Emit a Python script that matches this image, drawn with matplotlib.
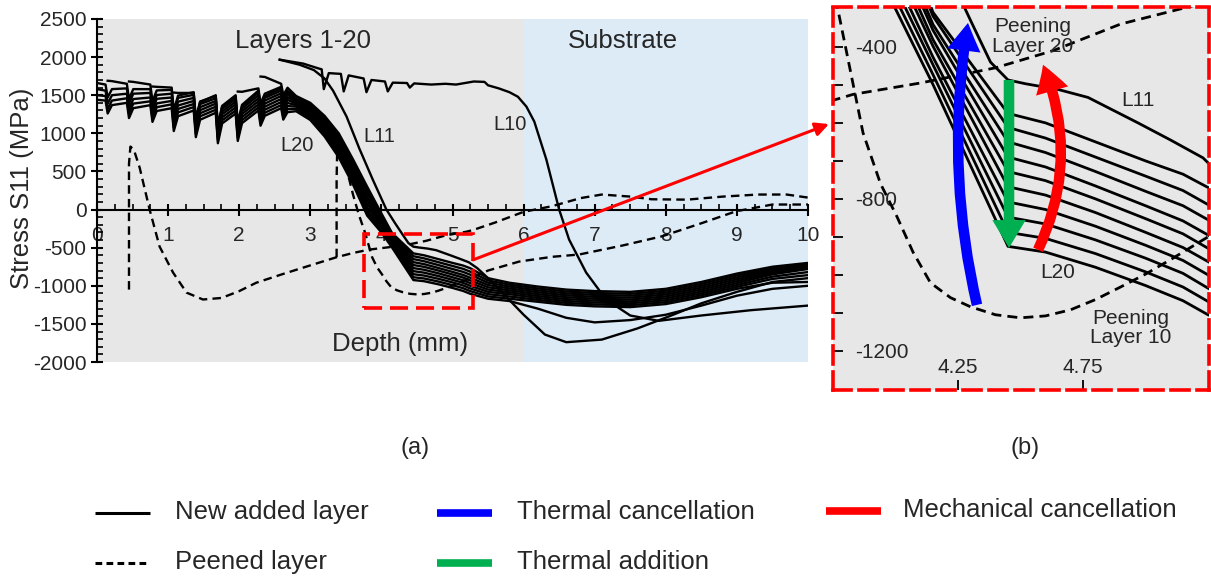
"""Residual stress S11 vs depth for layers 1-20, with zoomed detail panel."""

import matplotlib

matplotlib.use("Agg")
import matplotlib.pyplot as plt
import numpy as np
from matplotlib.lines import Line2D
from matplotlib.patches import ArrowStyle, ConnectionPatch, FancyArrowPatch, Rectangle
from matplotlib.ticker import MultipleLocator

plt.rcParams["font.family"] = ["Liberation Sans", "DejaVu Sans"]
plt.rcParams["axes.unicode_minus"] = False

# ---------------------------------------------------------------- data
# shared depth grid (mm) for the bundle of newly added layer curves
depth_grid = [
    0.00,
    0.12, 0.15, 0.21, 0.42, 0.45, 0.51, 0.75, 0.78, 0.84,
    1.05, 1.08, 1.14, 1.36, 1.39, 1.45, 1.67, 1.70, 1.76,
    1.95, 1.98, 2.04, 2.27, 2.30, 2.36, 2.59, 2.62, 2.68,
    2.80, 3.00, 3.20, 3.40, 3.60, 3.80, 4.00, 4.15, 4.30, 4.45,
    4.60, 4.80, 5.00, 5.15, 5.25,
    5.50, 5.80, 6.20, 6.60, 7.00, 7.50, 8.00, 8.50, 9.00, 9.50, 10.0,
]

# stress (MPa) per bundle curve, None before the curve starts
bundle_01 = [
    None, None, None, None, None, None, None, None, None, None,
    None, None, None, None, None, None, None, None, None,
    None, None, None, None, 1745, 1740, 1650, 1500, 1598,
    1490, 1400, 1230, 1000, 660, 300, -50, -309, -442, -575,
    -600, -650, -700, -735, -770,
    -900, -960, -1010, -1050, -1070, -1080, -1040, -950, -840, -750, -700,
]
bundle_02 = [
    None, None, None, None, None, None, None, None, None, None,
    None, None, None, None, None, None, None, None, None,
    None, 1548, 1545, 1590, 1390, 1520, 1610, 1460, 1558,
    1470, 1375, 1200, 965, 625, 255, -78, -319, -466, -612,
    -640, -690, -740, -778, -815,
    -930, -985, -1035, -1075, -1095, -1105, -1065, -975, -865, -770, -715,
]
bundle_03 = [
    None, None, None, None, None, None, None, None, None, None,
    None, 1535, 1530, 1530, 1180, 1408, 1500, 1100, 1360,
    1500, 1140, 1374, 1560, 1360, 1490, 1590, 1440, 1538,
    1450, 1350, 1170, 930, 590, 209, -106, -341, -496, -650,
    -678, -728, -780, -818, -855,
    -960, -1010, -1060, -1100, -1120, -1130, -1090, -1000, -890, -790, -730,
]
bundle_04 = [
    None, None, None, None, None, None, None, None, 1614, 1610,
    1600, 1300, 1495, 1540, 1190, 1418, 1490, 1090, 1350,
    1480, 1120, 1354, 1535, 1335, 1465, 1560, 1410, 1508,
    1430, 1325, 1140, 895, 555, 164, -133, -356, -523, -690,
    -716, -766, -818, -858, -895,
    -990, -1035, -1085, -1125, -1145, -1155, -1115, -1025, -915, -810, -745,
]
bundle_05 = [
    None, None, None, None, None, 1680, 1675, 1640, 1420, 1563,
    1570, 1270, 1465, 1505, 1155, 1383, 1460, 1060, 1320,
    1450, 1090, 1324, 1500, 1300, 1430, 1525, 1375, 1473,
    1410, 1300, 1110, 860, 515, 118, -161, -381, -554, -728,
    -752, -800, -852, -892, -930,
    -1020, -1060, -1110, -1150, -1170, -1180, -1140, -1050, -940, -830, -760,
]
bundle_06 = [
    None, None, 1690, 1685, 1650, 1450, 1580, 1580, 1360, 1503,
    1520, 1220, 1415, 1465, 1115, 1343, 1425, 1025, 1285,
    1415, 1055, 1289, 1460, 1260, 1390, 1490, 1340, 1438,
    1390, 1275, 1080, 825, 480, 73, -189, -398, -583, -768,
    -790, -836, -888, -928, -965,
    -1050, -1085, -1135, -1175, -1195, -1205, -1165, -1075, -965, -850, -780,
]
bundle_07 = [
    1660, 1640, 1470, 1580, 1590, 1390, 1520, 1530, 1310, 1453,
    1470, 1170, 1365, 1425, 1075, 1303, 1390, 990, 1250,
    1380, 1020, 1254, 1420, 1220, 1350, 1450, 1300, 1398,
    1370, 1250, 1050, 790, 445, 27, -217, -427, -618, -808,
    -828, -872, -922, -962, -1000,
    -1080, -1110, -1160, -1200, -1220, -1230, -1190, -1100, -990, -880, -820,
]
bundle_08 = [
    1580, 1560, 1390, 1500, 1520, 1320, 1450, 1470, 1250, 1393,
    1425, 1125, 1320, 1385, 1035, 1263, 1350, 950, 1210,
    1340, 980, 1214, 1380, 1180, 1310, 1410, 1260, 1358,
    1350, 1225, 1020, 755, 410, -18, -244, -447, -648, -848,
    -866, -908, -956, -996, -1035,
    -1110, -1140, -1185, -1225, -1245, -1255, -1215, -1125, -1015, -910, -860,
]
bundle_09 = [
    1500, 1490, 1320, 1430, 1460, 1260, 1390, 1420, 1200, 1343,
    1380, 1080, 1275, 1345, 995, 1223, 1310, 910, 1170,
    1300, 940, 1174, 1340, 1140, 1270, 1370, 1220, 1318,
    1320, 1200, 990, 720, 370, -45, -272, -473, -680, -888,
    -904, -944, -992, -1032, -1070,
    -1140, -1170, -1210, -1250, -1270, -1280, -1240, -1150, -1040, -960, -950,
]
bundle_10 = [
    1440, 1430, 1260, 1370, 1400, 1200, 1330, 1370, 1150, 1293,
    1330, 1030, 1225, 1300, 950, 1178, 1270, 870, 1130,
    1260, 900, 1134, 1300, 1100, 1230, 1330, 1180, 1278,
    1290, 1175, 960, 685, 330, -80, -300, -499, -712, -925,
    -940, -980, -1028, -1068, -1105,
    -1170, -1200, -1300, -1420, -1480, -1450, -1380, -1260, -1130, -1040, -1000,
]
bundle_rows = [bundle_01, bundle_02, bundle_03, bundle_04, bundle_05,
               bundle_06, bundle_07, bundle_08, bundle_09, bundle_10]

l10_depth = [2.57, 2.90, 3.12, 3.16, 3.19, 3.26, 3.43, 3.47, 3.54, 3.75, 3.79,
             3.86, 4.05, 4.09, 4.16, 4.36, 4.40, 4.46, 4.70, 4.90, 5.05, 5.30,
             5.45, 5.50, 5.65, 5.80, 5.92, 6.04, 6.15, 6.32, 6.50, 6.64, 6.88,
             7.16, 7.50, 7.90, 8.50, 9.20, 10.0]
l10_stress = [1966, 1915, 1850, 1840, 1580, 1790, 1780, 1550, 1760, 1720, 1540,
              1700, 1680, 1550, 1665, 1660, 1600, 1655, 1640, 1650, 1640, 1680,
              1675, 1630, 1590, 1540, 1480, 1350, 1155, 656, 0, -394, -827,
              -1180, -1390, -1460, -1390, -1320, -1260]

l11_depth = [2.57, 2.85, 3.05, 3.20, 3.32, 3.51, 3.69, 3.88, 4.07, 4.20, 4.30,
             4.38, 4.45, 4.52, 4.65, 4.77, 4.97, 5.10, 5.23, 5.35, 5.50, 5.70,
             6.00, 6.30, 6.60, 7.10, 7.60, 8.05, 8.50, 9.00, 9.50, 10.0]
l11_stress = [1966, 1900, 1830, 1720, 1560, 1220, 800, 390, 0, -190, -330,
              -440, -487, -497, -512, -533, -600, -645, -692, -770, -900, -1090,
              -1380, -1640, -1740, -1706, -1560, -1400, -1230, -1080, -950, -900]

peen20_depth = [0.45, 0.45, 0.47, 0.52, 0.60, 0.74, 0.88, 1.07, 1.26, 1.49, 1.75,
                2.00, 2.24, 2.60, 2.95, 3.37, 3.60, 3.83, 4.10, 4.40, 4.63, 4.90,
                5.20, 5.30, 5.60, 6.00, 6.40, 6.80, 7.10, 7.50, 7.80, 8.30, 8.80,
                9.30, 9.70, 10.0]
peen20_stress = [-1050, 600, 826, 780, 550, 0, -485, -827, -1090, -1180, -1160,
                 -1070, -960, -850, -747, -625, -570, -525, -495, -455, -410, -340,
                 -290, -265, -170, -30, 44, 150, 197, 170, 135, 130, 170,
                 197, 197, 157]

peen10_depth = [3.37, 3.37, 3.38, 3.41, 3.45, 3.52, 3.60, 3.68, 3.77, 3.87, 3.94,
                4.006, 4.07, 4.14, 4.22, 4.30, 4.40, 4.50, 4.60, 4.70, 4.80, 4.90,
                5.00, 5.10, 5.25, 5.50, 5.94, 6.40, 6.78, 7.40, 7.95, 8.50, 8.99,
                9.50, 10.0]
peen10_stress = [-625, 400, 850, 870, 780, 500, 200, -60, -303, -626, -760,
                 -847, -940, -1021, -1060, -1084, -1105, -1113, -1108, -1092, -1065, -1032,
                 -998, -960, -900, -800, -682, -620, -590, -470, -350, -180, -22,
                 66, 66]

GRAY_BG = "#E7E7E7"
BLUE_BG = "#DDEBF7"
TEXT_C = "#262626"
DASH = (0, (3.6, 2.2))
RED_DASH = (0, (5, 2.2))

W, H = 1211, 579
fig = plt.figure(figsize=(W / 100, H / 100), dpi=100)

# pixel-space helper axes for legend and panel captions
ax_leg = fig.add_axes([0, 0, 1, 1])
ax_leg.set_xlim(0, W)
ax_leg.set_ylim(H, 0)
ax_leg.axis("off")

ax = fig.add_axes([97 / W, 1 - 362 / H, 711 / W, 343 / H])
ax_in = fig.add_axes([833 / W, 1 - 390 / H, 376 / W, 383 / H])


def draw_profiles(a, lw):
    grid = np.array(depth_grid)
    for row in bundle_rows:
        a.plot(grid, np.array(row, dtype=float), color="black", lw=lw, zorder=3)
    a.plot(l10_depth, l10_stress, color="black", lw=lw, zorder=3)
    a.plot(l11_depth, l11_stress, color="black", lw=lw, zorder=3)
    a.plot(peen20_depth, peen20_stress, color="black", lw=lw, ls=DASH, zorder=2)
    a.plot(peen10_depth, peen10_stress, color="black", lw=lw, ls=DASH, zorder=2)


# ---------------------------------------------------------------- panel (a)
ax.axvspan(0, 6, color=GRAY_BG, lw=0, zorder=0)
ax.axvspan(6, 10, color=BLUE_BG, lw=0, zorder=0)
ax.set_facecolor("none")
draw_profiles(ax, 1.7)
ax.set_xlim(0, 10)
ax.set_ylim(-2000, 2500)
for side in ("top", "right"):
    ax.spines[side].set_visible(False)
ax.spines["bottom"].set_position(("data", 0))
for side in ("left", "bottom"):
    ax.spines[side].set_linewidth(1.5)
    ax.spines[side].set_zorder(4)
ax.xaxis.set_major_locator(MultipleLocator(1))
ax.xaxis.set_minor_locator(MultipleLocator(0.25))
ax.yaxis.set_major_locator(MultipleLocator(500))
ax.yaxis.set_minor_locator(MultipleLocator(100))
ax.tick_params(which="major", direction="inout", length=9, width=1.5,
               labelsize=15, labelcolor=TEXT_C)
ax.tick_params(which="minor", direction="in", length=4, width=1.2)
ax.tick_params(axis="x", which="major", pad=7)
ax.tick_params(axis="y", which="major", pad=3)

ax.text(2.9, 2205, "Layers 1-20", fontsize=18.5, color=TEXT_C, ha="center", va="center")
ax.text(7.4, 2205, "Substrate", fontsize=18.5, color=TEXT_C, ha="center", va="center")
ax.text(2.81, 840, "L20", fontsize=14.5, color=TEXT_C, ha="center", va="center")
ax.text(3.97, 960, "L11", fontsize=14.5, color=TEXT_C, ha="center", va="center")
ax.text(5.81, 1115, "L10", fontsize=14.5, color=TEXT_C, ha="center", va="center")
ax.text(4.26, -1770, "Depth (mm)", fontsize=18.5, color=TEXT_C, ha="center", va="center")
fig.text(22 / W, 1 - 188 / H, "Stress S11 (MPa)", rotation=90, fontsize=18.5,
         color=TEXT_C, ha="center", va="center")

ax.add_patch(Rectangle((3.76, -1290), 1.53, 975, fill=False, ec="red", lw=2.6,
                       ls=RED_DASH, zorder=5))

# ---------------------------------------------------------------- panel (b)
ax_in.set_facecolor(GRAY_BG)
draw_profiles(ax_in, 2.0)
ax_in.set_xlim(3.75, 5.254)
ax_in.set_ylim(-1303, -295)
ax_in.set_xticks([4.25, 4.75])
ax_in.set_xticklabels(["4.25", "4.75"])
ax_in.set_yticks(list(range(-1200, -300, 100)))
ax_in.set_yticklabels(["-1200", "", "", "", "-800", "", "", "", "-400"])
ax_in.tick_params(direction="in", length=7, width=1.3, labelsize=15,
                  labelcolor=TEXT_C, color="black")
ax_in.tick_params(axis="y", pad=-16)
ax_in.tick_params(axis="x", pad=-23)
for lbl in ax_in.get_yticklabels():
    lbl.set_horizontalalignment("left")
for sp in ax_in.spines.values():
    sp.set_color("red")
    sp.set_linestyle(RED_DASH)
    sp.set_linewidth(2.6)
    sp.set_zorder(6)

ax_in.text(4.55, -372, "Peening\nLayer 20", fontsize=15, color=TEXT_C,
           ha="center", va="center", linespacing=1.05, zorder=7)
ax_in.text(4.97, -540, "L11", fontsize=15, color=TEXT_C, ha="center", va="center")
ax_in.text(4.65, -995, "L20", fontsize=15, color=TEXT_C, ha="center", va="center")
ax_in.text(4.94, -1140, "Peening\nLayer 10", fontsize=15, color=TEXT_C,
           ha="center", va="center", linespacing=1.05)

arrow_style = ArrowStyle.Simple(head_length=1.0, head_width=1.2, tail_width=0.38)
for start, end, rad, col in (
    ((4.326, -1079), (4.29, -337), -0.10, "#0000FF"),
    ((4.454, -487), (4.454, -929), 0.0, "#00B050"),
    ((4.57, -934), (4.59, -447), 0.22, "#FF0000"),
):
    ax_in.add_patch(FancyArrowPatch(start, end, arrowstyle=arrow_style,
                                    connectionstyle=f"arc3,rad={rad}",
                                    mutation_scale=20, color=col, lw=0,
                                    shrinkA=0, shrinkB=0, zorder=8))

con = ConnectionPatch(xyA=(5.29, -660), coordsA=ax.transData,
                      xyB=(3.734, -603), coordsB=ax_in.transData,
                      arrowstyle="-|>", color="red", lw=2.2, mutation_scale=20,
                      shrinkA=0, shrinkB=0, zorder=9)
fig.add_artist(con)

# ---------------------------------------------------------------- captions & legend
ax_leg.text(415, 448, "(a)", fontsize=17, color=TEXT_C, ha="center", va="center")
ax_leg.text(1025, 448, "(b)", fontsize=17, color=TEXT_C, ha="center", va="center")

legend_items = [
    (95, 513, "black", 2.2, "-", "New added layer"),
    (95, 563, "black", 2.2, (0, (2.2, 1.4)), "Peened layer"),
    (437, 513, "#0000FF", 5.5, "-", "Thermal cancellation"),
    (437, 563, "#00B050", 5.5, "-", "Thermal addition"),
    (826, 511, "#FF0000", 5.5, "-", "Mechanical cancellation"),
]
for x0, y0, col, lw, ls, label in legend_items:
    ax_leg.add_line(Line2D([x0, x0 + 55], [y0, y0], color=col, lw=lw, ls=ls,
                           solid_capstyle="butt"))
    ax_leg.text(x0 + 80 if x0 < 800 else x0 + 77, y0 - 1, label, fontsize=18.5,
                color=TEXT_C, ha="left", va="center")

fig.savefig("out.png", dpi=100)
